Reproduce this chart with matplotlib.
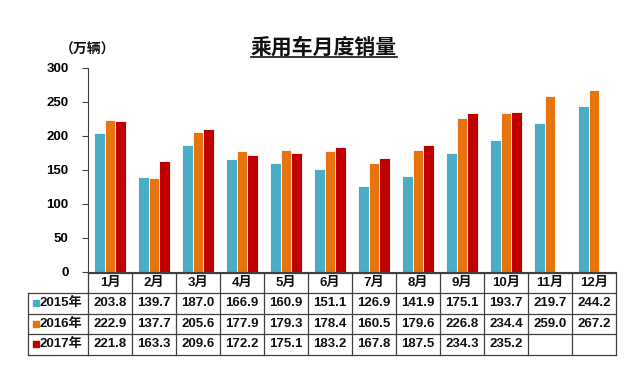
import matplotlib

matplotlib.use("Agg")
import matplotlib.pyplot as plt
import numpy as np
from matplotlib.transforms import Affine2D, blended_transform_factory

plt.rcParams["font.family"] = ["Liberation Sans", "Noto Sans CJK SC"]
plt.rcParams["font.weight"] = "bold"

months = ["1月", "2月", "3月", "4月", "5月", "6月", "7月", "8月", "9月", "10月", "11月", "12月"]
years = ["2015年", "2016年", "2017年"]
sales_2015 = [203.8, 139.7, 187.0, 166.9, 160.9, 151.1, 126.9, 141.9, 175.1, 193.7, 219.7, 244.2]
sales_2016 = [222.9, 137.7, 205.6, 177.9, 179.3, 178.4, 160.5, 179.6, 226.8, 234.4, 259.0, 267.2]
sales_2017 = [221.8, 163.3, 209.6, 172.2, 175.1, 183.2, 167.8, 187.5, 234.3, 235.2]
yticks = [0, 50, 100, 150, 200, 250, 300]

COLORS = ["#4BACC6", "#E8740E", "#C00000"]
LINE = "#404040"

W, H = 641, 374
fig = plt.figure(figsize=(W / 100, H / 100), dpi=100)
fig.patch.set_facecolor("white")

# axes box in pixel terms: x 88..616, y 68..272 (from top)
ax = fig.add_axes([88 / W, 1 - 272 / H, (616 - 88) / W, (272 - 68) / H])

series = [sales_2015, sales_2016, sales_2017]
bw = 0.235
x = np.arange(len(months))
for i, (vals, c) in enumerate(zip(series, COLORS)):
    xs = x[: len(vals)] + (i - 1) * bw
    ax.bar(xs, vals, width=bw, color=c, edgecolor="white", linewidth=0.6, zorder=2)

ax.set_xlim(-0.5, len(months) - 0.5)
ax.set_ylim(0, 300)
ax.set_yticks(yticks)
ax.set_yticklabels([str(v) for v in yticks], fontsize=9.5, fontweight="bold")
ax.tick_params(axis="y", direction="out", length=4, width=0.8, color=LINE, pad=10)
ax.set_xticks([])
for s in ["top", "right"]:
    ax.spines[s].set_visible(False)
ax.spines["left"].set_color(LINE)
ax.spines["left"].set_linewidth(0.8)
ax.spines["bottom"].set_color(LINE)
ax.spines["bottom"].set_linewidth(0.8)

# pixel transform (origin top-left)
pix = Affine2D().scale(1, -1).translate(0, H)
xdat = blended_transform_factory(ax.transData, pix)

# table
row_y = [273, 292.5, 313.5, 334, 354.5]
lw = 0.9
# horizontal lines over month columns
for yy in row_y:
    ax.plot([-0.5, 11.5], [yy, yy], transform=xdat, color=LINE, lw=lw, clip_on=False)
# horizontal lines over the legend column
for yy in row_y[1:]:
    ax.plot([28, 88], [yy, yy], transform=pix, color=LINE, lw=lw, clip_on=False)
ax.plot([28, 28], [row_y[1], row_y[-1]], transform=pix, color=LINE, lw=lw, clip_on=False)
for k in range(len(months) + 1):
    ax.plot([k - 0.5, k - 0.5], [row_y[0], row_y[-1]], transform=xdat,
            color=LINE, lw=lw, clip_on=False)

for k, m in enumerate(months):
    ax.text(k, (row_y[0] + row_y[1]) / 2, m, transform=xdat, ha="center", va="center",
            fontsize=9.5, fontweight="bold", color="#111111")

for r, (vals, yr, c) in enumerate(zip(series, years, COLORS)):
    yc = (row_y[r + 1] + row_y[r + 2]) / 2
    for k, v in enumerate(vals):
        ax.text(k, yc, f"{v:.1f}", transform=xdat, ha="center", va="center",
                fontsize=9.5, fontweight="bold", color="#111111")
    ax.plot([35.5], [yc], transform=pix, marker="s", ms=4.5, color=c,
            clip_on=False, linestyle="none")
    ax.text(40, yc, yr, transform=pix, ha="left", va="center",
            fontsize=9.5, fontweight="bold", color="#111111")

# unit label and title
ax.text(88, 50, "（万辆）", transform=pix, ha="center", va="center",
        fontsize=10, fontweight="bold", color="#111111")
ax.text(324, 47, "乘用车月度销量", transform=pix, ha="center", va="center",
        fontsize=15, fontweight="bold", color="#111111")
ax.plot([251, 397], [57, 57], transform=pix, color="#111111", lw=1.2, clip_on=False)

fig.savefig("out.png", dpi=100)
